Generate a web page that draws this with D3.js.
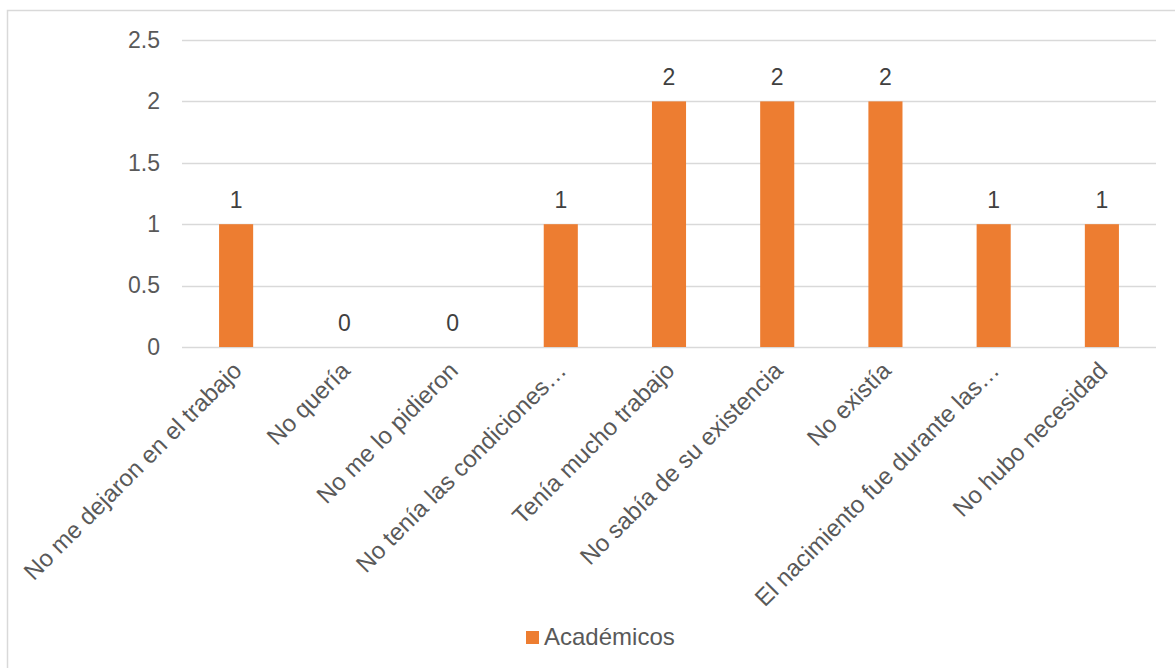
<!DOCTYPE html>
<html>
<head>
<meta charset="utf-8">
<script src="https://cdn.jsdelivr.net/npm/d3@7"></script>
<style>
  body { margin: 0; background: #fff; }
  text { font-family: "Liberation Sans", Arial, sans-serif; }
</style>
</head>
<body>
<svg id="chart" width="1175" height="668"></svg>
<script>
const categories = [
  'No me dejaron en el trabajo',
  'No quería',
  'No me lo pidieron',
  'No tenía las condiciones…',
  'Tenía mucho trabajo',
  'No sabía de su existencia',
  'No existía',
  'El nacimiento fue durante las…',
  'No hubo necesidad'
];
const values = [1, 0, 0, 1, 2, 2, 2, 1, 1];
const yTicks = [0, 0.5, 1, 1.5, 2, 2.5];
const seriesName = 'Académicos';

const barColor = '#ED7D31';
const fontSize = 23;
const width = 1175, height = 668;
const margin = { top: 40, right: 19, bottom: 321, left: 182 };

const svg = d3.select('#chart');

// outer frame
svg.append('rect')
  .attr('x', 7.5).attr('y', 10.5)
  .attr('width', 1180).attr('height', 670)
  .attr('fill', 'none')
  .attr('stroke', '#d9d9d9')
  .attr('stroke-width', 1.5);

const x = d3.scaleBand()
  .domain(categories)
  .range([margin.left, width - margin.right])
  .paddingInner(0.685)
  .paddingOuter(0.3425);

const y = d3.scaleLinear()
  .domain([0, 2.5])
  .range([height - margin.bottom, margin.top]);

// gridlines
svg.append('g')
  .selectAll('line')
  .data(yTicks)
  .join('line')
  .attr('x1', margin.left)
  .attr('x2', width - margin.right)
  .attr('y1', d => Math.round(y(d)) + 0.5)
  .attr('y2', d => Math.round(y(d)) + 0.5)
  .attr('stroke', '#d9d9d9')
  .attr('stroke-width', 1.5);

// y axis labels
const yAxis = d3.axisLeft(y).tickValues(yTicks).tickFormat(d => String(d)).tickSize(0).tickPadding(22);
svg.append('g')
  .attr('transform', `translate(${margin.left},0)`)
  .call(yAxis)
  .call(g => g.select('.domain').remove())
  .selectAll('text')
  .attr('font-size', fontSize)
  .attr('fill', '#595959')
  .attr('font-family', '"Liberation Sans", Arial, sans-serif');

// bars
svg.append('g')
  .selectAll('rect')
  .data(values)
  .join('rect')
  .attr('x', (d, i) => x(categories[i]))
  .attr('y', d => y(d))
  .attr('width', x.bandwidth())
  .attr('height', d => y(0) - y(d))
  .attr('fill', barColor);

// data labels
svg.append('g')
  .selectAll('text')
  .data(values)
  .join('text')
  .attr('x', (d, i) => x(categories[i]) + x.bandwidth() / 2)
  .attr('y', d => y(d) - 16)
  .attr('text-anchor', 'middle')
  .attr('font-size', fontSize)
  .attr('fill', '#404040')
  .text(d => d);

// x labels, rotated
const xAxis = d3.axisBottom(x).tickSize(0).tickPadding(0);
svg.append('g')
  .attr('transform', `translate(0,${y(0)})`)
  .call(xAxis)
  .call(g => g.select('.domain').remove())
  .selectAll('text')
  .attr('font-size', 24)
  .attr('fill', '#595959')
  .attr('font-family', '"Liberation Sans", Arial, sans-serif')
  .attr('text-anchor', 'end')
  .attr('dy', null)
  .attr('y', 0)
  .attr('transform', 'translate(7,25) rotate(-45)');

// legend
const legend = svg.append('g').attr('transform', 'translate(526,631)');
legend.append('rect')
  .attr('width', 13).attr('height', 13)
  .attr('fill', barColor);
legend.append('text')
  .attr('x', 18).attr('y', 14)
  .attr('font-size', 24)
  .attr('fill', '#595959')
  .text(seriesName);
</script>
</body>
</html>
